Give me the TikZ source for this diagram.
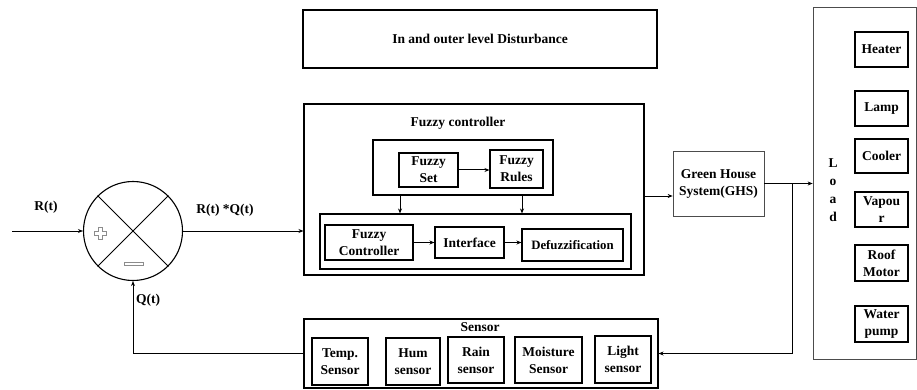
\documentclass[tikz,border=0pt]{standalone}
\usepackage{fontspec}
\setmainfont{Liberation Serif}
\usetikzlibrary{arrows.meta,calc}
\begin{document}
\begin{tikzpicture}[x=1pt,y=-1pt,
  txt/.style={font=\fontsize{13.5}{17}\selectfont\bfseries},
  box/.style={draw, line width=1.1pt, inner sep=1pt, align=center, txt},
  frame/.style={draw, line width=1.1pt},
  thinframe/.style={draw, line width=0.7pt, draw=black!70},
  lbl/.style={txt},
  arr/.style={line width=1pt, -{Stealth[length=5pt,width=4pt]}},
  ln/.style={line width=1pt}]
\useasboundingbox (0,0) rectangle (917,390);

% disturbance block
\node[box, minimum width=354, minimum height=58] (dist) at (480,39) {In and outer level Disturbance};

% fuzzy controller
\node[frame, minimum width=340, minimum height=171] (fc) at (474,189.5) {};
\node[lbl] (fctitle) at (458,123) {Fuzzy controller};
\node[frame, minimum width=180, minimum height=55] (top) at (463,167.5) {};
\node[box, minimum width=59, minimum height=34] (fset) at (428.5,170) {Fuzzy\\Set};
\node[box, minimum width=53, minimum height=38] (frules) at (516.5,169) {Fuzzy\\Rules};
\node[frame, minimum width=311, minimum height=55] (low) at (475.5,241.5) {};
\node[box, minimum width=88, minimum height=35] (fctrl) at (369,242.5) {Fuzzy\\Controller};
\node[box, minimum width=69, minimum height=31] (intf) at (469.5,242.5) {Interface};
\node[box, minimum width=101, minimum height=32,
  font=\fontsize{12.8}{14}\selectfont\bfseries] (defz) at (572.5,245) {Defuzzification};

\draw[arr] (fset) -- (fset -| frules.west);
\draw[arr] (fctrl) -- (fctrl -| intf.west);
\draw[arr] (intf) -- (intf -| defz.west);
\draw[arr] (top.south -| 400,0) -- (low.north -| 400,0);
\draw[arr] (top.south -| 522,0) -- (low.north -| 522,0);

% summing junction
\node[draw, circle, line width=1.1pt, minimum size=99, inner sep=0] (sum) at (133,231) {};
\draw[ln] (sum.45) -- (sum.225);
\draw[ln] (sum.135) -- (sum.315);
% hollow plus and minus signs
\draw[line width=0.6pt, black!45]
  (98,227) -- (102,227) -- (102,231) -- (106,231) -- (106,235) -- (102,235)
  -- (102,239) -- (98,239) -- (98,235) -- (94,235) -- (94,231) -- (98,231) -- cycle;
\draw[line width=0.6pt, black!45] (124,262) rectangle (143,265);

\coordinate (in) at (12,231);
\draw[arr] (in) -- (sum.west);
\node[lbl] (rt) at (46,207) {R(t)};
\draw[arr] (sum.east) -- (sum.east -| fc.west);
\node[lbl] (rq) at (225,210) {R(t) *Q(t)};
\node[lbl] (qt) at (148,300) {Q(t)};

% green house system
\node[thinframe, minimum width=91, minimum height=65, align=center, txt] (ghs) at (718.5,183.5) {Green House\\System(GHS)};
\draw[arr] ([yshift=-6.5pt]fc.east) coordinate (fco) -- (fco -| ghs.west);

% load panel
\node[thinframe, minimum width=103, minimum height=352] (load) at (864.5,183) {};
\node[txt, align=center, font=\fontsize{13.5}{18}\selectfont\bfseries] (loadtxt) at (833,190) {L\\o\\a\\d};
\node[box, minimum width=53, minimum height=35] (heater) at (881.5,49.5) {Heater};
\node[box, minimum width=53, minimum height=35] (lamp) at (881.5,108.5) {Lamp};
\node[box, minimum width=53, minimum height=34] (cooler) at (881.5,156) {Cooler};
\node[box, minimum width=53, minimum height=35] (vapour) at (881.5,209.5) {Vapou\\r};
\node[box, minimum width=53, minimum height=36] (roof) at (881.5,263) {Roof\\Motor};
\node[box, minimum width=53, minimum height=36] (water) at (881.5,324) {Water\\pump};

\draw[arr] (ghs.east) -- (ghs.east -| load.west);
\coordinate (br) at (792,183.5);

% sensor block
\node[frame, minimum width=354, minimum height=69] (sensor) at (481,353.5) {};
\node[lbl] (sentitle) at (480,327) {Sensor};
\node[box, minimum width=56, minimum height=47] (temp) at (340,361.5) {Temp.\\Sensor};
\node[box, minimum width=54, minimum height=47] (hum) at (413,361.5) {Hum\\sensor};
\node[box, minimum width=56, minimum height=46] (rain) at (476,360) {Rain\\sensor};
\node[box, minimum width=67, minimum height=46] (moist) at (548.5,360) {Moisture\\Sensor};
\node[box, minimum width=56, minimum height=47] (light) at (623,359.5) {Light\\sensor};

% feedback path
\draw[arr] (br) |- (sensor.east);
\draw[arr] (sensor.west) -| (sum.south);
\end{tikzpicture}
\end{document}
